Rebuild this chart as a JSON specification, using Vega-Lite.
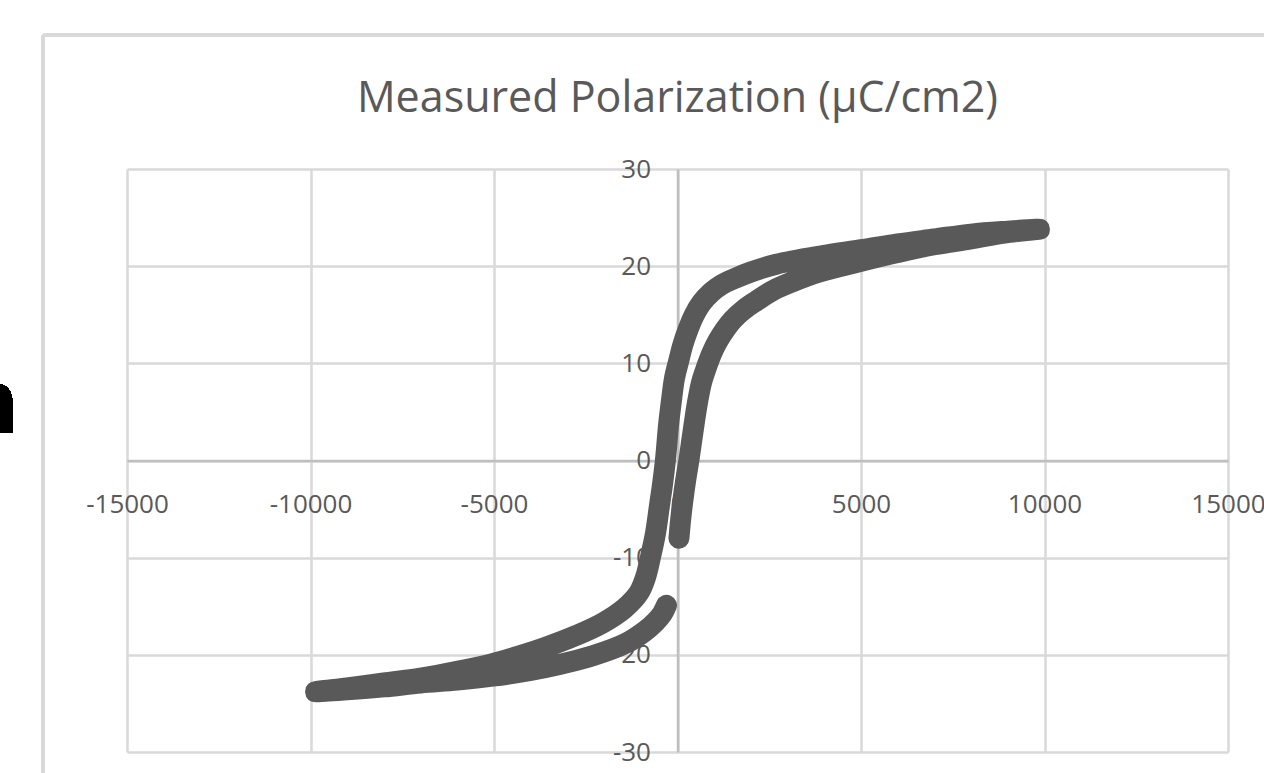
{
  "$schema": "https://vega.github.io/schema/vega-lite/v6.json",
  "autosize": {"type": "none"},
  "width": 1101,
  "height": 583,
  "padding": {"left": 127, "top": 169, "right": 36, "bottom": 21},
  "background": "white",
  "config": {
    "view": {"stroke": null},
    "font": "Open Sans",
    "axis": {
      "labelFont": "Open Sans",
      "labelFontSize": 26,
      "labelColor": "#595959",
      "gridColor": "#d9d9d9",
      "gridWidth": 2.5,
      "domainColor": "#bfbfbf",
      "domainWidth": 2.5,
      "ticks": false,
      "title": null,
      "labelExpr": "'' + datum.value"
    }
  },
  "title": {
    "text": "Measured Polarization (µC/cm2)",
    "font": "Open Sans",
    "fontSize": 43,
    "fontWeight": "normal",
    "color": "#595959",
    "anchor": "middle",
    "frame": "group",
    "baseline": "alphabetic",
    "offset": -122
  },
  "data": {
    "values": [
      {"i": 1, "E": 40, "P": -8.0},
      {"i": 2, "E": 80, "P": -6.3},
      {"i": 3, "E": 140, "P": -4.3},
      {"i": 4, "E": 220, "P": -2.1},
      {"i": 5, "E": 310, "P": 0},
      {"i": 6, "E": 390, "P": 2.1},
      {"i": 7, "E": 470, "P": 4.2},
      {"i": 8, "E": 560, "P": 6.3},
      {"i": 9, "E": 660, "P": 8.1},
      {"i": 10, "E": 780, "P": 9.5},
      {"i": 11, "E": 930, "P": 11.0},
      {"i": 12, "E": 1100, "P": 12.3},
      {"i": 13, "E": 1300, "P": 13.5},
      {"i": 14, "E": 1510, "P": 14.5},
      {"i": 15, "E": 1800, "P": 15.5},
      {"i": 16, "E": 2140, "P": 16.4},
      {"i": 17, "E": 2600, "P": 17.5},
      {"i": 18, "E": 3140, "P": 18.4},
      {"i": 19, "E": 3870, "P": 19.4},
      {"i": 20, "E": 5000, "P": 20.5},
      {"i": 21, "E": 6000, "P": 21.4},
      {"i": 22, "E": 7000, "P": 22.2},
      {"i": 23, "E": 8000, "P": 22.8},
      {"i": 24, "E": 8900, "P": 23.4},
      {"i": 25, "E": 9860, "P": 23.8},
      {"i": 26, "E": 9000, "P": 23.6},
      {"i": 27, "E": 8000, "P": 23.3},
      {"i": 28, "E": 7000, "P": 22.8},
      {"i": 29, "E": 6000, "P": 22.3},
      {"i": 30, "E": 5000, "P": 21.7},
      {"i": 31, "E": 3960, "P": 21.1},
      {"i": 32, "E": 2690, "P": 20.2},
      {"i": 33, "E": 2000, "P": 19.4},
      {"i": 34, "E": 1600, "P": 18.8},
      {"i": 35, "E": 1200, "P": 18.1},
      {"i": 36, "E": 920, "P": 17.3},
      {"i": 37, "E": 650, "P": 16.2},
      {"i": 38, "E": 460, "P": 15.0},
      {"i": 39, "E": 280, "P": 13.4},
      {"i": 40, "E": 145, "P": 11.9},
      {"i": 41, "E": 30, "P": 10.2},
      {"i": 42, "E": -80, "P": 8.5},
      {"i": 43, "E": -170, "P": 6.0},
      {"i": 44, "E": -240, "P": 3.8},
      {"i": 45, "E": -330, "P": 0},
      {"i": 46, "E": -410, "P": -2.5},
      {"i": 47, "E": -490, "P": -4.6},
      {"i": 48, "E": -600, "P": -7.5},
      {"i": 49, "E": -740, "P": -10.0},
      {"i": 50, "E": -870, "P": -12.0},
      {"i": 51, "E": -1050, "P": -13.6},
      {"i": 52, "E": -1440, "P": -15.2},
      {"i": 53, "E": -2030, "P": -16.7},
      {"i": 54, "E": -2760, "P": -18.0},
      {"i": 55, "E": -3580, "P": -19.2},
      {"i": 56, "E": -4300, "P": -20.1},
      {"i": 57, "E": -5040, "P": -20.9},
      {"i": 58, "E": -6000, "P": -21.7},
      {"i": 59, "E": -7000, "P": -22.4},
      {"i": 60, "E": -8000, "P": -22.9},
      {"i": 61, "E": -9000, "P": -23.4},
      {"i": 62, "E": -9860, "P": -23.8},
      {"i": 63, "E": -9000, "P": -23.6},
      {"i": 64, "E": -8000, "P": -23.3},
      {"i": 65, "E": -7000, "P": -22.9},
      {"i": 66, "E": -6000, "P": -22.6},
      {"i": 67, "E": -5040, "P": -22.2},
      {"i": 68, "E": -4000, "P": -21.6},
      {"i": 69, "E": -3220, "P": -21.0},
      {"i": 70, "E": -2310, "P": -20.1},
      {"i": 71, "E": -1400, "P": -18.8},
      {"i": 72, "E": -900, "P": -17.6},
      {"i": 73, "E": -600, "P": -16.6},
      {"i": 74, "E": -420, "P": -15.8},
      {"i": 75, "E": -300, "P": -14.9}
    ]
  },
  "layer": [
    {
      "mark": {"type": "line", "color": "#595959", "strokeWidth": 21, "strokeCap": "round", "strokeJoin": "round", "interpolate": "catmull-rom"},
      "encoding": {
        "x": {
          "field": "E", "type": "quantitative",
          "scale": {"domain": [-15000, 15000], "nice": false, "zero": false},
          "axis": {"values": [-15000, -10000, -5000, 0, 5000, 10000, 15000], "offset": -291.5, "labelPadding": 31, "labelFlush": false, "labelOverlap": false}
        },
        "y": {
          "field": "P", "type": "quantitative",
          "scale": {"domain": [-30, 30], "nice": false, "zero": false},
          "axis": {"values": [-30, -20, -10, 0, 10, 20, 30], "offset": -550.5, "labelPadding": 27, "labelFlush": false, "labelOverlap": false}
        },
        "order": {"field": "i", "type": "quantitative"}
      }
    },
    {
      "mark": {"type": "rule", "color": "#d9d9d9", "strokeWidth": 3},
      "encoding": {
        "x": {"datum": -17290},
        "y": {"datum": 43.8},
        "y2": {"datum": -45}
      }
    },
    {
      "mark": {"type": "rule", "color": "#d9d9d9", "strokeWidth": 3},
      "encoding": {
        "x": {"datum": -17290},
        "x2": {"datum": 20000},
        "y": {"datum": 43.8}
      }
    },
    {
      "mark": {"type": "text", "text": "n", "font": "Liberation Sans", "fontSize": 90, "fontWeight": "bold", "color": "black", "align": "right", "baseline": "alphabetic"},
      "encoding": {
        "x": {"datum": -17970},
        "y": {"datum": 2.83}
      }
    }
  ]
}
